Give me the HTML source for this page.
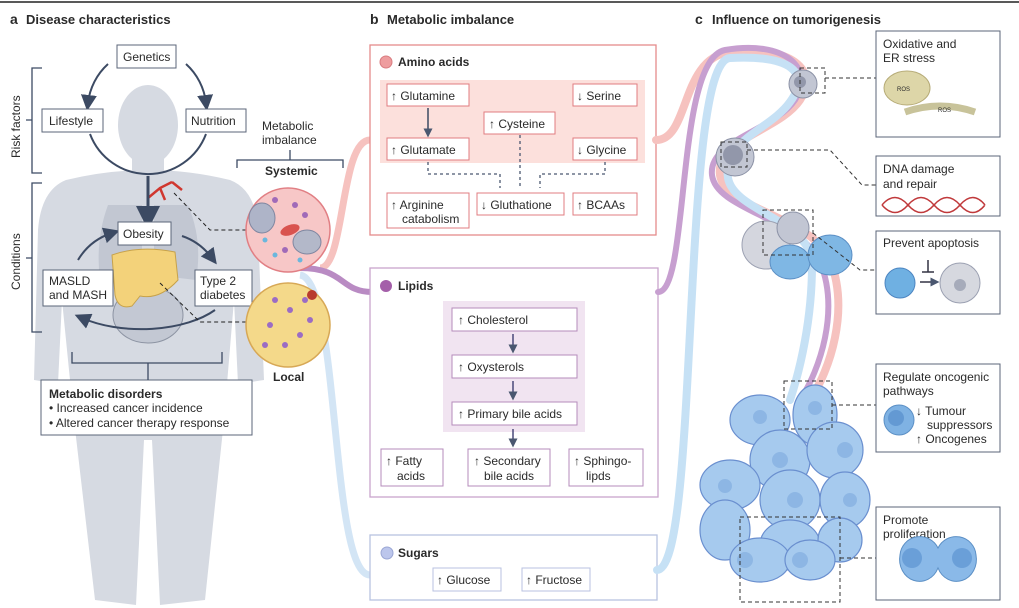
<!DOCTYPE html>
<html><head><meta charset="utf-8"><style>
html,body{margin:0;padding:0;background:#fff}
svg{display:block}
text{font-family:"Liberation Sans",sans-serif;fill:#2a2a2a}
.b{font-weight:bold}
</style></head><body>
<svg width="1019" height="608" viewBox="0 0 1019 608" xmlns="http://www.w3.org/2000/svg">
<defs>
<marker id="ah" markerWidth="8" markerHeight="8" refX="4" refY="4" orient="auto"><path d="M0,0 L8,4 L0,8 z" fill="#3c4a63"/></marker>
<marker id="ah2" markerWidth="6" markerHeight="6" refX="3" refY="3" orient="auto"><path d="M0,0 L6,3 L0,6 z" fill="#4a5770"/></marker>
</defs>
<line x1="0" y1="2" x2="1019" y2="2" stroke="#222" stroke-width="1.5"/>
<text x="10" y="24" font-size="14" class="b">a</text><text x="26" y="24" font-size="13" class="b">Disease characteristics</text>
<text x="370" y="24" font-size="14" class="b">b</text><text x="387" y="24" font-size="13" class="b">Metabolic imbalance</text>
<text x="695" y="24" font-size="14" class="b">c</text><text x="712" y="24" font-size="13" class="b">Influence on tumorigenesis</text>

<g fill="#d6dae2">
<ellipse cx="148" cy="125" rx="30" ry="40"/>
<rect x="132" y="155" width="32" height="20"/>
<path d="M66 180 Q148 160 230 180 Q256 190 258 230 L264 380 L238 384 L234 300 L224 420 L205 600 L160 605 L152 440 L144 440 L136 605 L95 600 L74 420 L62 300 L58 384 L34 380 L38 230 Q41 190 66 180 z"/>
</g>
<path d="M108 205 Q95 240 100 280 L142 275 L142 205 z" fill="#b9bfcc" opacity=".7"/>
<path d="M188 205 Q203 240 196 280 L154 275 L154 205 z" fill="#b9bfcc" opacity=".7"/>
<ellipse cx="148" cy="315" rx="35" ry="28" fill="#c3c8d3" stroke="#8d94a3"/>
<path d="M112 255 Q140 245 175 252 L178 280 Q160 300 140 296 L132 306 Q118 310 115 295 z" fill="#f3d27a" stroke="#c7a24a"/>
<path d="M148 198 L160 188 L172 182 M160 188 L165 200 M172 182 L182 190" stroke="#d0372f" stroke-width="2.5" fill="none"/>

<path d="M108 64 A62 62 0 0 0 88 103" stroke="#3c4a63" stroke-width="2" fill="none" marker-end="url(#ah)"/>
<path d="M186 64 A62 62 0 0 1 206 103" stroke="#3c4a63" stroke-width="2" fill="none" marker-end="url(#ah)"/>
<path d="M90 134 A62 62 0 0 0 206 134" stroke="#3c4a63" stroke-width="2" fill="none"/>
<line x1="148" y1="176" x2="148" y2="218" stroke="#3c4a63" stroke-width="3" marker-end="url(#ah)"/>
<path d="M78 260 Q90 240 112 233" stroke="#3c4a63" stroke-width="2" fill="none" marker-end="url(#ah)"/>
<path d="M182 236 Q200 242 212 258" stroke="#3c4a63" stroke-width="2" fill="none" marker-end="url(#ah)"/>
<path d="M215 310 A90 45 0 0 1 82 318" stroke="#3c4a63" stroke-width="2" fill="none" marker-end="url(#ah)"/>

<g fill="#fff" stroke="#5b6578" stroke-width="1">
<rect x="117" y="45" width="59" height="23"/>
<rect x="42" y="109" width="61" height="23"/>
<rect x="186" y="109" width="60" height="23"/>
<rect x="118" y="222" width="53" height="23"/>
<rect x="43" y="270" width="70" height="36"/>
<rect x="195" y="270" width="57" height="36"/>
<rect x="41" y="380" width="211" height="55"/>
</g>
<g font-size="12">
<text x="123" y="61">Genetics</text>
<text x="49" y="125">Lifestyle</text>
<text x="191" y="125">Nutrition</text>
<text x="123" y="238">Obesity</text>
<text x="49" y="285">MASLD</text><text x="49" y="299">and MASH</text>
<text x="200" y="285">Type 2</text><text x="200" y="299">diabetes</text>
<text x="49" y="398" class="b">Metabolic disorders</text>
<text x="49" y="412">• Increased cancer incidence</text>
<text x="49" y="427">• Altered cancer therapy response</text>
</g>
<g stroke="#3c4a63" stroke-width="1.3" fill="none">
<path d="M42 68 H32 V173 H42 M32 120 H26"/>
<path d="M42 183 H32 V332 H42 M32 258 H26"/>
<path d="M72 352 V363 H222 V352 M148 363 V380"/>
<path d="M237 168 V160 H343 V168 M290 150 V160"/>
</g>
<text transform="translate(20,158) rotate(-90)" font-size="12">Risk factors</text>
<text transform="translate(20,290) rotate(-90)" font-size="12">Conditions</text>
<text x="262" y="130" font-size="12" fill="#444">Metabolic</text>
<text x="262" y="144" font-size="12" fill="#444">imbalance</text>
<text x="265" y="175" font-size="12" class="b">Systemic</text>
<text x="273" y="381" font-size="12" class="b">Local</text>
<path d="M174 193 L210 230 H246" stroke="#222" stroke-dasharray="4,3" fill="none"/>
<path d="M160 283 L200 322 H246" stroke="#222" stroke-dasharray="4,3" fill="none"/>

<path d="M320 268 C345 268 340 140 370 140" stroke="#f6c2bf" stroke-width="7" fill="none"/>
<path d="M300 268 C345 268 340 292 372 292" stroke="#b98bc3" stroke-width="6" fill="none"/>
<path d="M300 275 C340 280 330 575 370 575" stroke="#c8def3" stroke-width="7" fill="none" opacity=".8"/>

<circle cx="288" cy="230" r="42" fill="#f7c7c7" stroke="#e17f84" stroke-width="1.5"/>
<g fill="#a06ab8"><circle cx="275" cy="200" r="3"/><circle cx="295" cy="205" r="3"/><circle cx="305" cy="215" r="3"/><circle cx="285" cy="250" r="3"/><circle cx="315" cy="240" r="3"/></g>
<g fill="#6bb7dd"><circle cx="265" cy="240" r="2.5"/><circle cx="275" cy="255" r="2.5"/><circle cx="260" cy="225" r="2.5"/><circle cx="300" cy="260" r="2.5"/></g>
<ellipse cx="262" cy="218" rx="13" ry="15" fill="#aeb4c8" stroke="#7f86a0"/>
<ellipse cx="307" cy="242" rx="14" ry="12" fill="#b3b8c9" stroke="#7f86a0"/>
<ellipse cx="290" cy="230" rx="10" ry="5" fill="#d9534f" transform="rotate(-20 290 230)"/>
<circle cx="288" cy="325" r="42" fill="#f4d98a" stroke="#d7a856" stroke-width="1.5"/>
<g fill="#9b6cc4"><circle cx="275" cy="300" r="3"/><circle cx="290" cy="310" r="3"/><circle cx="305" cy="300" r="3"/><circle cx="270" cy="325" r="3"/><circle cx="300" cy="335" r="3"/><circle cx="285" cy="345" r="3"/><circle cx="310" cy="320" r="3"/><circle cx="265" cy="345" r="3"/></g>
<circle cx="312" cy="295" r="5" fill="#b83b2e"/>

<rect x="370" y="45" width="286" height="190" fill="#fff" stroke="#e48c8c" stroke-width="1.3"/>
<rect x="380" y="80" width="265" height="83" fill="#fce0dc"/>
<circle cx="386" cy="62" r="6" fill="#ee9d9f" stroke="#d97c80"/>
<text x="398" y="66" font-size="12" class="b">Amino acids</text>
<g fill="#fff" stroke="#e07c80" stroke-width="1">
<rect x="387" y="84" width="82" height="22"/><rect x="573" y="84" width="64" height="22"/>
<rect x="484" y="112" width="71" height="22"/><rect x="387" y="138" width="82" height="22"/>
<rect x="573" y="138" width="64" height="22"/><rect x="387" y="193" width="82" height="35"/>
<rect x="477" y="193" width="87" height="22"/><rect x="573" y="193" width="64" height="22"/>
</g>
<g font-size="12">
<text x="391" y="100">↑ Glutamine</text><text x="577" y="100">↓ Serine</text>
<text x="489" y="128">↑ Cysteine</text><text x="391" y="154">↑ Glutamate</text>
<text x="577" y="154">↓ Glycine</text>
<text x="391" y="209">↑ Arginine</text><text x="402" y="223">catabolism</text>
<text x="481" y="209">↓ Gluthatione</text><text x="577" y="209">↑ BCAAs</text>
</g>
<line x1="428" y1="108" x2="428" y2="133" stroke="#3c4a63" stroke-width="1.5" marker-end="url(#ah2)"/>
<g stroke="#4a5770" stroke-width="1.3" stroke-dasharray="3,3" fill="none">
<path d="M428 162 V174 H500 V188"/><path d="M520 135 V188"/><path d="M605 162 V174 H540 V188"/>
</g>

<rect x="370" y="268" width="288" height="229" fill="#fff" stroke="#c9a4cd" stroke-width="1.3"/>
<rect x="443" y="301" width="142" height="131" fill="#f1e4f1"/>
<circle cx="386" cy="286" r="6" fill="#a45fa9"/>
<text x="398" y="290" font-size="12" class="b">Lipids</text>
<g fill="#fff" stroke="#b58bbb" stroke-width="1">
<rect x="452" y="308" width="125" height="23"/><rect x="452" y="355" width="125" height="23"/>
<rect x="452" y="402" width="125" height="23"/>
<rect x="381" y="449" width="62" height="37"/><rect x="468" y="449" width="82" height="37"/>
<rect x="569" y="449" width="74" height="37"/>
</g>
<g stroke="#4a4a7a" stroke-width="1.5"><line x1="513" y1="334" x2="513" y2="349" marker-end="url(#ah2)"/><line x1="513" y1="381" x2="513" y2="396" marker-end="url(#ah2)"/><line x1="513" y1="429" x2="513" y2="443" marker-end="url(#ah2)"/></g>
<g font-size="12">
<text x="458" y="324">↑ Cholesterol</text><text x="458" y="371">↑ Oxysterols</text>
<text x="458" y="418">↑ Primary bile acids</text>
<text x="386" y="465">↑ Fatty</text><text x="397" y="480">acids</text>
<text x="474" y="465">↑ Secondary</text><text x="484" y="480">bile acids</text>
<text x="574" y="465">↑ Sphingo-</text><text x="586" y="480">lipds</text>
</g>

<rect x="370" y="535" width="287" height="65" fill="#fff" stroke="#b8c2e0" stroke-width="1.3"/>
<circle cx="387" cy="553" r="6" fill="#bcc6ec" stroke="#9aa6d4"/>
<text x="398" y="557" font-size="12" class="b">Sugars</text>
<g fill="#fff" stroke="#b8c2e0"><rect x="433" y="568" width="68" height="23"/><rect x="522" y="568" width="68" height="23"/></g>
<text x="437" y="584" font-size="12">↑ Glucose</text><text x="526" y="584" font-size="12">↑ Fructose</text>

<g fill="none" stroke-linecap="round">
<path d="M656 140 C690 140 680 58 730 52 C790 45 820 70 800 100 C780 130 715 140 720 175 C725 210 810 215 830 260 C850 310 830 370 810 400" stroke="#f6c2bf" stroke-width="8"/>
<path d="M658 292 C690 292 675 60 725 50 C785 40 815 68 795 100 C775 130 708 140 712 175 C716 210 800 218 820 262 C840 310 820 370 800 400" stroke="#c79fd0" stroke-width="6"/>
<path d="M657 570 C700 570 680 60 730 58 C790 55 812 72 790 102 C770 130 722 140 728 178 C734 212 812 220 812 265 C812 320 800 370 790 400" stroke="#c6e1f5" stroke-width="8"/>
</g>

<circle cx="803" cy="84" r="14" fill="#c2c6d3" stroke="#8c92a6"/><circle cx="800" cy="82" r="6" fill="#9297aa"/>
<circle cx="735" cy="157" r="19" fill="#c2c6d3" stroke="#8c92a6"/><circle cx="733" cy="155" r="10" fill="#9297aa"/>
<circle cx="766" cy="245" r="24" fill="#d4d6de" stroke="#9ca1b2"/><circle cx="793" cy="228" r="16" fill="#c2c6d3" stroke="#8c92a6"/>
<ellipse cx="790" cy="262" rx="20" ry="17" fill="#7fb7e4" stroke="#5b8fc5"/>
<ellipse cx="830" cy="255" rx="22" ry="20" fill="#7fb7e4" stroke="#5b8fc5"/>
<g fill="#a6caee" stroke="#6a8fcf" stroke-width="1.2">
<ellipse cx="760" cy="420" rx="30" ry="25"/><ellipse cx="815" cy="415" rx="22" ry="30"/>
<ellipse cx="780" cy="460" rx="30" ry="30"/><ellipse cx="835" cy="450" rx="28" ry="28"/>
<ellipse cx="730" cy="485" rx="30" ry="25"/><ellipse cx="790" cy="500" rx="30" ry="30"/>
<ellipse cx="845" cy="500" rx="25" ry="28"/><ellipse cx="725" cy="530" rx="25" ry="30"/>
<ellipse cx="790" cy="545" rx="30" ry="25"/><ellipse cx="840" cy="540" rx="22" ry="22"/>
<ellipse cx="760" cy="560" rx="30" ry="22"/><ellipse cx="810" cy="560" rx="25" ry="20"/>
</g>
<g fill="#7eaade" opacity=".6"><circle cx="760" cy="417" r="7"/><circle cx="815" cy="408" r="7"/><circle cx="780" cy="460" r="8"/><circle cx="845" cy="450" r="8"/><circle cx="725" cy="486" r="7"/><circle cx="795" cy="500" r="8"/><circle cx="850" cy="500" r="7"/><circle cx="745" cy="560" r="8"/><circle cx="800" cy="560" r="8"/></g>

<g stroke="#333" stroke-width="1" stroke-dasharray="4,3" fill="none">
<rect x="800" y="68" width="25" height="25"/><path d="M825 78 H876"/>
<rect x="721" y="142" width="26" height="25"/><path d="M747 150 H830 L862 185 H876"/>
<rect x="763" y="210" width="50" height="45"/><path d="M813 233 L860 270 H876"/>
<rect x="784" y="381" width="48" height="48"/><path d="M832 405 H876"/>
<rect x="740" y="517" width="100" height="85"/><path d="M840 558 H876"/>
</g>

<g fill="#fff" stroke="#5b6578">
<rect x="876" y="31" width="124" height="106"/><rect x="876" y="156" width="124" height="60"/>
<rect x="876" y="231" width="124" height="83"/><rect x="876" y="364" width="124" height="88"/>
<rect x="876" y="507" width="124" height="93"/>
</g>
<g font-size="12">
<text x="883" y="48">Oxidative and</text><text x="883" y="62">ER stress</text>
<text x="883" y="173">DNA damage</text><text x="883" y="188">and repair</text>
<text x="883" y="247">Prevent apoptosis</text>
<text x="883" y="381">Regulate oncogenic</text><text x="883" y="395">pathways</text>
<text x="916" y="415">↓ Tumour</text><text x="927" y="429">suppressors</text><text x="916" y="443">↑ Oncogenes</text>
<text x="883" y="524">Promote</text><text x="883" y="538">proliferation</text>
</g>
<ellipse cx="907" cy="88" rx="23" ry="17" fill="#ddd6a8" stroke="#b6ab77"/>
<text x="897" y="91" font-size="6" fill="#c33">ROS</text>
<path d="M905 112 Q940 100 975 112" stroke="#c8c39a" stroke-width="7" fill="none"/>
<text x="938" y="112" font-size="6" fill="#c33">ROS</text>
<path d="M882 205 Q895 190 908 205 T934 205 T960 205 T985 205 M882 205 Q895 220 908 205 T934 205 T960 205 T985 205" stroke="#c0393b" stroke-width="1.5" fill="none"/>
<circle cx="900" cy="283" r="15" fill="#6fb0e2" stroke="#4c85c1"/>
<path d="M922 272 H934 M928 260 V272" stroke="#334" stroke-width="1.5"/>
<line x1="920" y1="282" x2="935" y2="282" stroke="#334" stroke-width="1.5" marker-end="url(#ah2)"/>
<circle cx="960" cy="283" r="20" fill="#d6d8df" stroke="#9ca1b2"/><circle cx="960" cy="285" r="6" fill="#a6abba"/>
<circle cx="899" cy="420" r="15" fill="#7fb2e3" stroke="#5b8fc5"/><circle cx="896" cy="418" r="8" fill="#6399d3"/>
<path d="M900 555 A20 20 0 0 1 938 548 A20 20 0 0 1 976 555 A20 22 0 0 1 938 568 A20 22 0 0 1 900 555z" fill="#8ab9e8" stroke="#5b8fc5"/>
<circle cx="912" cy="558" r="10" fill="#6a9fd8"/><circle cx="962" cy="558" r="10" fill="#6a9fd8"/>
</svg>
</body></html>
